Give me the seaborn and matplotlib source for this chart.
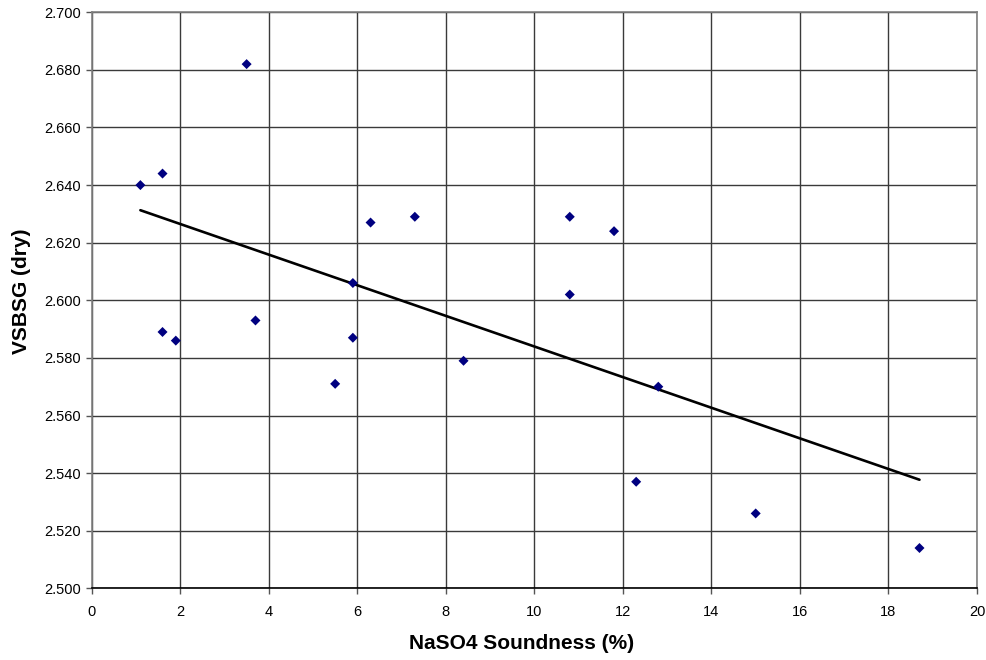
import numpy as np
import pandas as pd
import matplotlib
matplotlib.use("Agg")
import matplotlib.pyplot as plt
import seaborn as sns

# NaSO4 soundness loss (%) vs. dry bulk specific gravity
soundness = [1.1, 1.6, 3.5, 1.6, 1.9, 3.7, 6.3, 7.3, 5.9, 5.9, 5.5, 8.4,
             10.8, 11.8, 10.8, 12.8, 12.3, 15.0, 18.7]
vsbsg = [2.640, 2.644, 2.682, 2.589, 2.586, 2.593, 2.627, 2.629, 2.606, 2.587,
         2.571, 2.579, 2.629, 2.624, 2.602, 2.570, 2.537, 2.526, 2.514]

x_ticks = list(range(0, 21, 2))
y_ticks = [2.500, 2.520, 2.540, 2.560, 2.580, 2.600, 2.620, 2.640, 2.660, 2.680, 2.700]

df = pd.DataFrame({'soundness': soundness, 'vsbsg': vsbsg})

sns.set_style("white")
plt.rcParams['font.family'] = ['Liberation Sans', 'DejaVu Sans']
plt.rcParams['text.color'] = 'black'
plt.rcParams['axes.labelcolor'] = 'black'
plt.rcParams['xtick.color'] = 'black'
plt.rcParams['ytick.color'] = 'black'

fig = plt.figure(figsize=(9.87, 6.6), dpi=100)
ax = fig.add_axes([0.0929, 0.1086, 0.8970, 0.8728])

sns.scatterplot(x='soundness', y='vsbsg', data=df, marker='D', s=26,
                color='#000080', edgecolor='none', ax=ax, zorder=3)
sns.regplot(x='soundness', y='vsbsg', data=df, scatter=False, ci=None,
            truncate=True, color='black', line_kws={'linewidth': 1.9}, ax=ax)

ax.set_xlim(0, 20)
ax.set_ylim(2.5, 2.7)
ax.set_xticks(x_ticks)
ax.set_yticks(y_ticks)
ax.set_yticklabels(['%.3f' % v for v in y_ticks])
ax.grid(True, color='#3a3a3a', linewidth=1.0)
ax.set_axisbelow(True)
for s in ax.spines.values():
    s.set_color('#808080')
    s.set_linewidth(1.2)
ax.spines['bottom'].set_color('black')
ax.tick_params(axis='both', direction='out', length=4, width=1, color='#555555',
               labelsize=10.5, bottom=True, left=True)
ax.tick_params(axis='x', pad=8)
ax.tick_params(axis='y', pad=4)

ax.set_xlabel('NaSO4 Soundness (%)', fontsize=15, fontweight='bold')
ax.set_ylabel('VSBSG (dry)', fontsize=15, fontweight='bold')
ax.xaxis.set_label_coords(0.485, -0.080)
ax.yaxis.set_label_coords(-0.068, 0.515)

fig.savefig('out.png', dpi=100)
